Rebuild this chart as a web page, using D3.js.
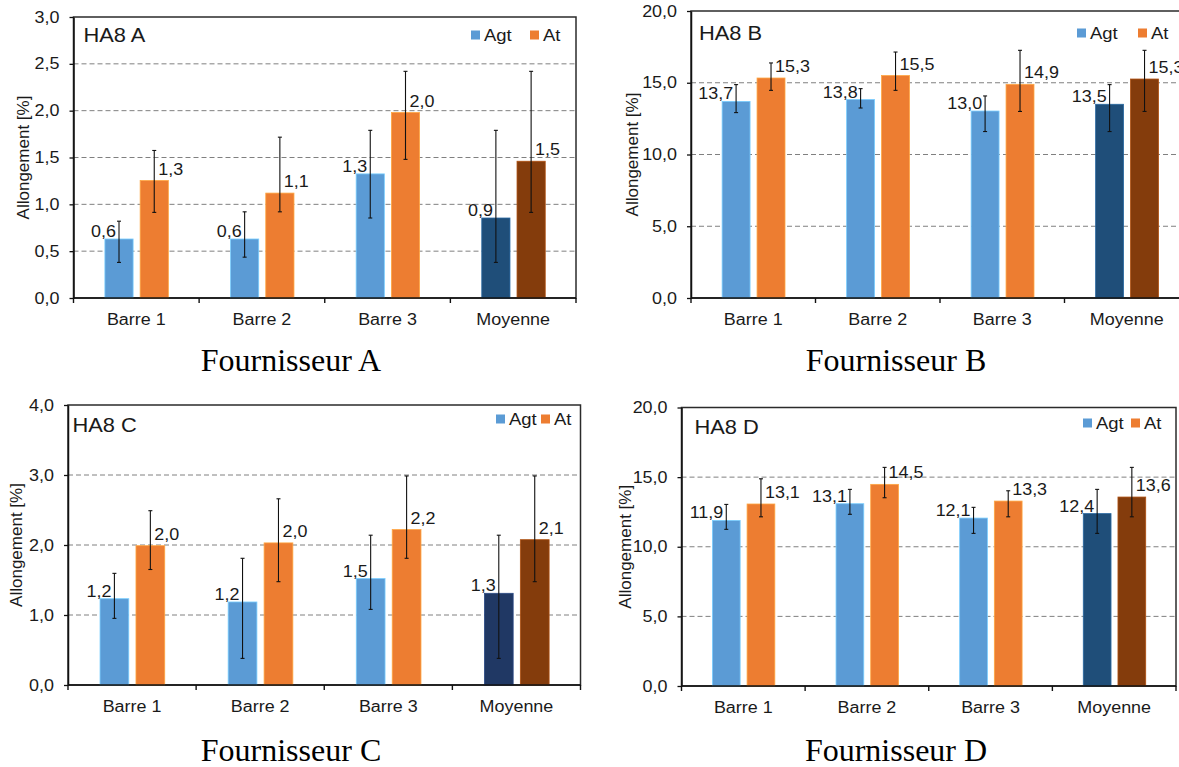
<!DOCTYPE html>
<html>
<head>
<meta charset="utf-8">
<script src="https://cdn.jsdelivr.net/npm/d3@7"></script>
<style>
  body { margin: 0; background: #fff; }
  svg { display: block; }
</style>
</head>
<body>
<script>
const categories = ["Barre 1", "Barre 2", "Barre 3", "Moyenne"];
const seriesNames = ["Agt", "At"];

// Fournisseur A
const agtA = [0.63, 0.63, 1.325, 0.854];
const agtLowA = [0.38, 0.436, 0.854, 0.38];
const agtHighA = [0.82, 0.92, 1.79, 1.79];
const atA = [1.254, 1.12, 1.98, 1.46];
const atLowA = [0.914, 0.92, 1.48, 0.914];
const atHighA = [1.575, 1.717, 2.42, 2.42];
const ticksA = [0, 0.5, 1, 1.5, 2, 2.5, 3];

// Fournisseur B
const agtB = [13.7, 13.83, 13.03, 13.5];
const agtLowB = [12.92, 13.24, 11.6, 11.6];
const agtHighB = [14.87, 14.59, 14.08, 14.87];
const atB = [15.33, 15.5, 14.89, 15.26];
const atLowB = [14.47, 14.47, 13.0, 13.0];
const atHighB = [16.38, 17.14, 17.26, 17.26];
const ticksB = [0, 5, 10, 15, 20];

// Fournisseur C
const agtC = [1.233, 1.186, 1.52, 1.31];
const agtLowC = [0.952, 0.38, 1.08, 0.38];
const agtHighC = [1.595, 1.81, 2.14, 2.14];
const atC = [1.99, 2.03, 2.22, 2.076];
const atLowC = [1.65, 1.476, 1.81, 1.476];
const atHighC = [2.49, 2.66, 2.986, 2.986];
const ticksC = [0, 1, 2, 3, 4];

// Fournisseur D
const agtD = [11.89, 13.09, 12.06, 12.38];
const agtLowD = [11.25, 12.33, 10.96, 10.96];
const agtHighD = [13.04, 14.12, 12.83, 14.12];
const atD = [13.07, 14.48, 13.28, 13.57];
const atLowD = [12.15, 13.52, 12.15, 12.15];
const atHighD = [14.88, 15.7, 14.02, 15.7];
const ticksD = [0, 5, 10, 15, 20];

const panelTitles = ["HA8 A", "HA8 B", "HA8 C", "HA8 D"];
const captions = ["Fournisseur A", "Fournisseur B", "Fournisseur C", "Fournisseur D"];
const yTitle = "Allongement [%]";

const width = 1179, height = 767;
const sans = "'Liberation Sans', Arial, sans-serif";
const STRETCH = 1.12; // the original picture is a bit wider than tall

const fr = d3.formatLocale({ decimal: ",", thousands: " ", grouping: [3], currency: ["", " €"] });
const fmt = fr.format(".1f");

const svg = d3.select("body").append("svg")
    .attr("width", width)
    .attr("height", height);

svg.append("rect").attr("width", width).attr("height", height).attr("fill", "#fff");

// widen text horizontally like in the picture
function stretch(sel) {
  sel.each(function () {
    const w = this.getComputedTextLength();
    if (w > 0) {
      this.setAttribute("textLength", w * STRETCH);
      this.setAttribute("lengthAdjust", "spacingAndGlyphs");
    }
  });
}

const panels = [
  { title: panelTitles[0], caption: captions[0], ticks: ticksA,
    agt: agtA, agtLow: agtLowA, agtHigh: agtHighA, at: atA, atLow: atLowA, atHigh: atHighA,
    x0: 73.5, x1: 576, top: 17, bottom: 298,
    titleDx: 10, titleDy: 18.5, legAgt: 105, legAt: 46, legDy: 18, yTitleX: 23,
    capX: 291, capY: 371, moyAgt: "#1F4E79" },
  { title: panelTitles[1], caption: captions[1], ticks: ticksB,
    agt: agtB, agtLow: agtLowB, agtHigh: agtHighB, at: atB, atLow: atLowB, atHigh: atHighB,
    x0: 691, x1: 1189, top: 11, bottom: 298,
    titleDx: 8, titleDy: 22, legAgt: 112, legAt: 51, legDy: 22, yTitleX: 632,
    capX: 896, capY: 371, moyAgt: "#1F4E79" },
  { title: panelTitles[2], caption: captions[2], ticks: ticksC,
    agt: agtC, agtLow: agtLowC, agtHigh: agtHighC, at: atC, atLow: atLowC, atHigh: atHighC,
    x0: 68, x1: 580.5, top: 405, bottom: 685,
    titleDx: 4.5, titleDy: 20, legAgt: 84.5, legAt: 39.5, legDy: 14, yTitleX: 16,
    capX: 291, capY: 761, moyAgt: "#203864" },
  { title: panelTitles[3], caption: captions[3], ticks: ticksD,
    agt: agtD, agtLow: agtLowD, agtHigh: agtHighD, at: atD, atLow: atLowD, atHigh: atHighD,
    x0: 681.5, x1: 1176, top: 407.5, bottom: 686,
    titleDx: 13, titleDy: 20, legAgt: 93, legAt: 45, legDy: 15.5, yTitleX: 625,
    capX: 896, capY: 761, moyAgt: "#1F4E79" }
];

function barColor(p, cat, s) {
  if (s === "Agt") return cat === "Moyenne" ? p.moyAgt : "#5B9BD5";
  return cat === "Moyenne" ? "#843C0C" : "#ED7D31";
}

function drawPanel(p) {
  const g = svg.append("g");

  const y = d3.scaleLinear()
      .domain([0, d3.max(p.ticks)])
      .range([p.bottom, p.top]);

  const x = d3.scaleBand()
      .domain(categories)
      .range([p.x0, p.x1])
      .padding(0);
  const W = x.bandwidth();

  const xs = d3.scaleBand()
      .domain(seriesNames)
      .range([0.25 * W, 0.755 * W])
      .paddingInner(0.2);

  // dashed gridlines
  g.append("g").selectAll("line")
    .data(p.ticks.filter(t => t > 0 && t < d3.max(p.ticks)))
    .join("line")
      .attr("x1", p.x0).attr("x2", p.x1)
      .attr("y1", d => y(d)).attr("y2", d => y(d))
      .attr("stroke", "#808080")
      .attr("stroke-width", 1)
      .attr("stroke-dasharray", "5,3");

  // plot frame
  g.append("rect")
    .attr("x", p.x0).attr("y", p.top)
    .attr("width", p.x1 - p.x0).attr("height", p.bottom - p.top)
    .attr("fill", "none")
    .attr("stroke", "#2b2b2b")
    .attr("stroke-width", 1.5);

  const rows = [];
  categories.forEach((c, i) => {
    rows.push({ cat: c, s: "Agt", v: p.agt[i], lo: p.agtLow[i], hi: p.agtHigh[i] });
    rows.push({ cat: c, s: "At", v: p.at[i], lo: p.atLow[i], hi: p.atHigh[i] });
  });
  const cx = d => x(d.cat) + xs(d.s) + xs.bandwidth() / 2;

  g.append("g").selectAll("rect")
    .data(rows)
    .join("rect")
      .attr("x", d => x(d.cat) + xs(d.s))
      .attr("y", d => y(d.v))
      .attr("width", xs.bandwidth())
      .attr("height", d => y(0) - y(d.v))
      .attr("fill", d => barColor(p, d.cat, d.s))
      .attr("stroke", d => d3.color(barColor(p, d.cat, d.s)).brighter(0.8))
      .attr("stroke-width", 0.8);

  // error bars
  const eb = g.append("g").attr("stroke", "#111").attr("stroke-width", 1.1);
  eb.selectAll("line.v").data(rows).join("line").attr("class", "v")
    .attr("x1", cx).attr("x2", cx)
    .attr("y1", d => y(d.lo)).attr("y2", d => y(d.hi));
  eb.selectAll("line.hi").data(rows).join("line").attr("class", "hi")
    .attr("x1", d => cx(d) - 2).attr("x2", d => cx(d) + 2)
    .attr("y1", d => y(d.hi)).attr("y2", d => y(d.hi));
  eb.selectAll("line.lo").data(rows).join("line").attr("class", "lo")
    .attr("x1", d => cx(d) - 2).attr("x2", d => cx(d) + 2)
    .attr("y1", d => y(d.lo)).attr("y2", d => y(d.lo));

  // value labels
  g.append("g").selectAll("text")
    .data(rows)
    .join("text")
      .attr("x", d => d.s === "Agt" ? cx(d) - 3 : cx(d) + 4)
      .attr("y", d => d.s === "Agt" ? y(d.v) - 2 : y(d.v) - 6)
      .attr("text-anchor", d => d.s === "Agt" ? "end" : "start")
      .attr("font-family", sans)
      .attr("font-size", 16)
      .attr("fill", "#1a1a1a")
      .text(d => fmt(d.v))
      .call(stretch);

  // y axis
  const yAxis = g.append("g")
    .attr("transform", `translate(${p.x0},0)`)
    .call(d3.axisLeft(y).tickValues(p.ticks).tickFormat(fmt)
      .tickSize(4).tickSizeOuter(0).tickPadding(10));
  yAxis.select(".domain").attr("stroke", "#111").attr("stroke-width", 1.5);
  yAxis.selectAll(".tick line").attr("stroke", "#111").attr("stroke-width", 1.3);
  yAxis.selectAll(".tick text")
    .attr("font-family", sans).attr("font-size", 16).attr("fill", "#1a1a1a")
    .call(stretch);

  // x axis
  g.append("line")
    .attr("x1", p.x0).attr("x2", p.x1)
    .attr("y1", p.bottom).attr("y2", p.bottom)
    .attr("stroke", "#111").attr("stroke-width", 1.6);
  const edges = categories.map(c => x(c)).concat([p.x1]);
  g.append("g").selectAll("line")
    .data(edges)
    .join("line")
      .attr("x1", d => d).attr("x2", d => d)
      .attr("y1", p.bottom).attr("y2", p.bottom + 5)
      .attr("stroke", "#111").attr("stroke-width", 1.4);
  g.append("g").selectAll("text")
    .data(categories)
    .join("text")
      .attr("x", d => x(d) + W / 2)
      .attr("y", p.bottom + 27)
      .attr("text-anchor", "middle")
      .attr("font-family", sans)
      .attr("font-size", 16)
      .attr("fill", "#1a1a1a")
      .text(d => d)
      .call(stretch);

  // y title
  g.append("text")
    .attr("transform", `translate(${p.yTitleX},${(p.top + p.bottom) / 2}) rotate(-90)`)
    .attr("dy", "0.35em")
    .attr("text-anchor", "middle")
    .attr("font-family", sans)
    .attr("font-size", 17)
    .attr("fill", "#1a1a1a")
    .text(yTitle);

  // panel title
  g.append("text")
    .attr("x", p.x0 + p.titleDx)
    .attr("y", p.top + p.titleDy)
    .attr("dy", "0.35em")
    .attr("font-family", sans)
    .attr("font-size", 19.5)
    .attr("fill", "#1a1a1a")
    .text(p.title)
    .call(stretch);

  // legend
  const leg = g.append("g");
  [[seriesNames[0], p.legAgt, "#5B9BD5"], [seriesNames[1], p.legAt, "#ED7D31"]].forEach(([name, off, col]) => {
    leg.append("rect")
      .attr("x", p.x1 - off).attr("y", p.top + p.legDy - 4.5)
      .attr("width", 9).attr("height", 9)
      .attr("fill", col);
    leg.append("text")
      .attr("x", p.x1 - off + 13).attr("y", p.top + p.legDy)
      .attr("dy", "0.35em")
      .attr("font-family", sans)
      .attr("font-size", 16.5)
      .attr("fill", "#1a1a1a")
      .text(name)
      .call(stretch);
  });

  // caption under the chart
  svg.append("text")
    .attr("x", p.capX)
    .attr("y", p.capY)
    .attr("text-anchor", "middle")
    .attr("font-family", "'Liberation Serif', 'Times New Roman', serif")
    .attr("font-size", 32)
    .attr("fill", "#000")
    .text(p.caption);
}

panels.forEach(drawPanel);
</script>
</body>
</html>
